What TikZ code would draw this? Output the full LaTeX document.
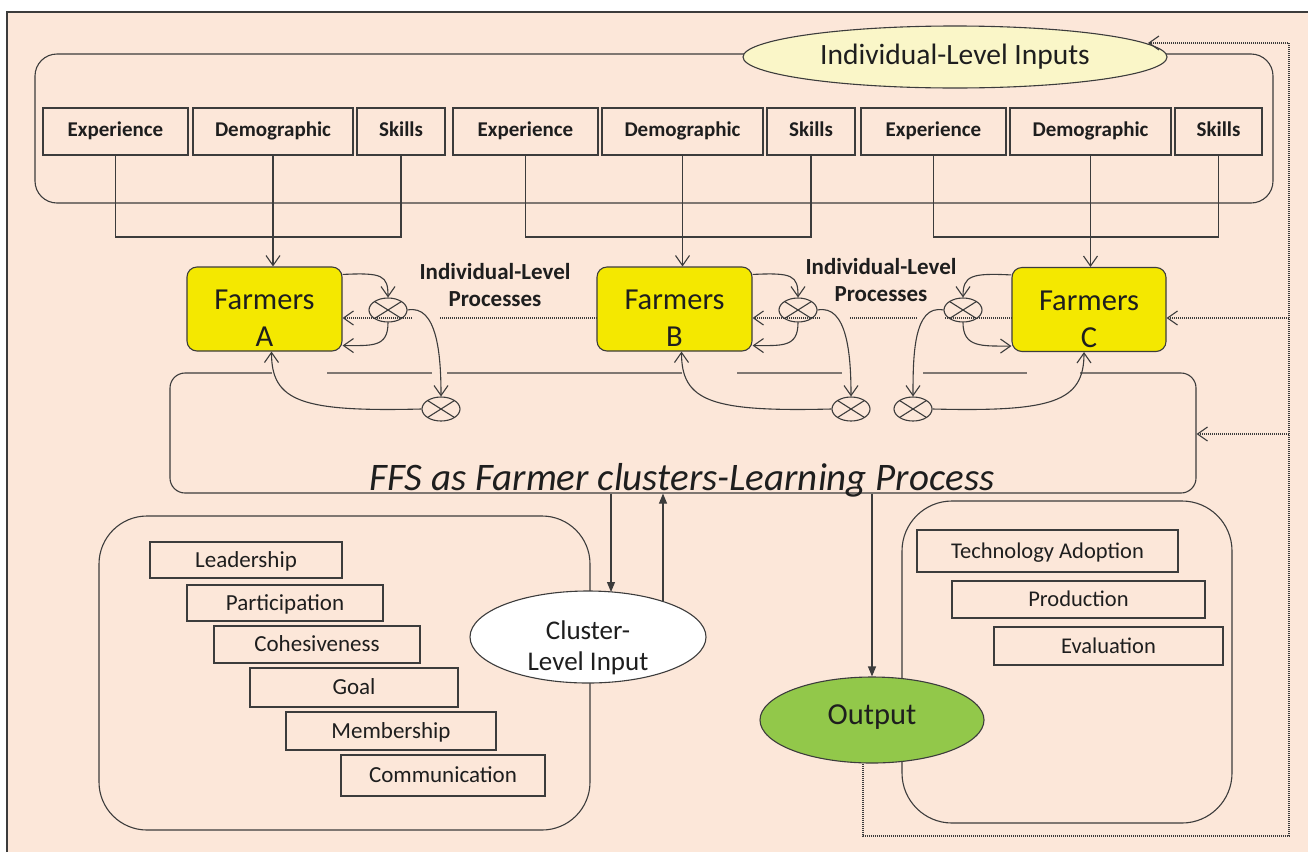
\documentclass[tikz,border=0pt]{standalone}
\usepackage{fontspec}
\setmainfont{Carlito}
\usetikzlibrary{arrows.meta,shapes.geometric}
\definecolor{bgc}{HTML}{FCE7D9}
\definecolor{lnc}{HTML}{3C3C3C}
\definecolor{txtc}{HTML}{1E1E1E}
\definecolor{farmy}{HTML}{F4E800}
\definecolor{pale}{HTML}{FAF6C8}
\definecolor{outg}{HTML}{92C84A}
\tikzset{
  solidline/.style={draw=lnc, line width=1.1pt},
  barb/.style={solidline, -{Straight Barb[length=10pt,width=14pt]}},
  farr/.style={solidline, -{Triangle[length=10pt,width=8pt]}},
  dotl/.style={draw=lnc, line width=1.2pt, dash pattern=on 1pt off 1pt},
  dotarr/.style={dotl, -{Straight Barb[length=10pt,width=14pt,line width=1.1pt]}},
  topbox/.style={solidline, rectangle, inner sep=0pt, minimum height=47pt, text=txtc, font=\fontsize{21}{25}\selectfont\bfseries, text height=1.02em, text depth=0.02em},
  lbox/.style={solidline, rectangle, inner sep=0pt, text=txtc, font=\fontsize{23}{27}\selectfont, text height=1.43em, text depth=-0.3em},
  farm/.style={solidline, rectangle, rounded corners=10pt, fill=farmy, inner sep=0pt, minimum width=155pt, minimum height=84pt},
  farmlab/.style={align=center, text=txtc, font=\fontsize{30.5}{37}\selectfont, inner sep=0pt},
  mix/.style={solidline, ellipse, inner sep=0pt, minimum width=38pt, minimum height=24pt,
    path picture={\draw[lnc, line width=1.1pt] (path picture bounding box.north west) -- (path picture bounding box.south east) (path picture bounding box.north east) -- (path picture bounding box.south west);}},
  proclab/.style={align=center, text=txtc, font=\fontsize{23}{27}\selectfont\bfseries, inner sep=0pt},
  eraser/.style={draw=bgc, line width=3pt},
}
\begin{document}
\begin{tikzpicture}[x=1pt,y=-1pt]
\useasboundingbox (0,0) rectangle (1308,852);
\fill[white] (0,0) rectangle (1308,852);
\fill[bgc] (7,12) rectangle (1308,852);
\draw[draw=lnc, line width=1.2pt] (7,852) -- (7,12) -- (1308,12);

% containers
\draw[solidline, rounded corners=22pt] (35,54) rectangle (1273,203);
\draw[solidline, rounded corners=48pt] (99,516) rectangle (590,830);
\draw[solidline, rounded corners=50pt] (902,501) rectangle (1232,823);

% top ellipse
\node[solidline, ellipse, fill=pale, minimum width=424pt, minimum height=62pt, inner sep=0pt, text=txtc, font=\fontsize{29.5}{35}\selectfont] (inputs) at (955,57) {Individual-Level Inputs};

% individual inputs
\node[topbox, minimum width=145pt] (e1) at (115.5,131.5) {Experience};
\node[topbox, minimum width=160pt] (d1) at (273,131.5) {Demographic};
\node[topbox, minimum width=88pt] (s1) at (401,131.5) {Skills};
\node[topbox, minimum width=145pt] (e2) at (525.5,131.5) {Experience};
\node[topbox, minimum width=161pt] (d2) at (682.5,131.5) {Demographic};
\node[topbox, minimum width=88pt] (s2) at (811,131.5) {Skills};
\node[topbox, minimum width=145pt] (e3) at (933.5,131.5) {Experience};
\node[topbox, minimum width=161pt] (d3) at (1090.5,131.5) {Demographic};
\node[topbox, minimum width=87pt] (s3) at (1218.5,131.5) {Skills};

% farmers
\node[farm] (A) at (264.5,309) {};
\node[farm] (B) at (674.5,309) {};
\node[farm, minimum width=154pt] (C) at (1089,309.5) {};
\node[farmlab] (Alab) at ([yshift=-9.5pt]A.center) {Farmers\\A};
\node[farmlab] (Blab) at ([yshift=-9.5pt]B.center) {Farmers\\B};
\node[farmlab] (Clab) at ([yshift=-9.5pt]C.center) {Farmers\\C};

% mixing circles
\node[mix] (a1) at (388,310) {};
\node[mix] (a2) at (441,409) {};
\node[mix] (b1) at (798,310) {};
\node[mix] (b2) at (851,409) {};
\node[mix] (c1) at (963,310) {};
\node[mix] (c2) at (913,409) {};

\node[proclab] (p1) at (495,285) {Individual-Level\\Processes};
\node[proclab] (p2) at (881,280) {Individual-Level\\Processes};

% FFS
\node[solidline, rectangle, rounded corners=15pt, minimum width=1026pt, minimum height=120pt, inner sep=0pt] (F) at (683,433) {};
\node[font=\fontsize{39}{45}\selectfont\itshape, text=txtc, inner sep=0pt, anchor=base] (Flab) at (682,490) {FFS as Farmer clusters-Learning Process};
\draw[eraser] (272,373) -- (327,373);
\draw[eraser] (432,373) -- (447,373);
\draw[eraser] (682,373) -- (737,373);
\draw[eraser] (842,373) -- (923,373);
\draw[eraser] (1027,373) -- (1080,373);

% cluster-level
\node[lbox, minimum width=192pt, minimum height=36pt] (lead) at (246,560) {Leadership};
\node[lbox, minimum width=196pt, minimum height=36pt] (part) at (285,603) {Participation};
\node[lbox, minimum width=206pt, minimum height=37pt] (cohe) at (317,644.5) {Cohesiveness};
\node[lbox, minimum width=208pt, minimum height=39pt] (goal) at (354,687.5) {Goal};
\node[lbox, minimum width=210pt, minimum height=38pt] (memb) at (391,731) {Membership};
\node[lbox, minimum width=204pt, minimum height=41pt] (comm) at (443,775.5) {Communication};
\node[solidline, ellipse, fill=white, minimum width=236pt, minimum height=92pt, inner sep=0pt] (cl) at (588,637) {};
\node[align=center, text=txtc, font=\fontsize{27}{31}\selectfont, inner sep=0pt] (cllab) at ([yshift=-10.5pt]cl.center) {Cluster-\\Level Input};

% outputs
\node[lbox, minimum width=261pt, minimum height=42pt, font=\fontsize{22.5}{27}\selectfont] (tech) at (1047.5,551) {Technology Adoption};
\node[lbox, minimum width=253pt, minimum height=37pt, font=\fontsize{22.5}{27}\selectfont] (prod) at (1078.5,599.5) {Production};
\node[lbox, minimum width=229pt, minimum height=38pt, font=\fontsize{22.5}{27}\selectfont] (eval) at (1108.5,646) {Evaluation};
\node[solidline, ellipse, fill=outg, minimum width=224pt, minimum height=86pt, inner sep=0pt, text=txtc, font=\fontsize{30.5}{36}\selectfont, text height=0.84em, text depth=-0.2em] (Out) at (872,720) {Output};

% input connectors
\coordinate (jy) at (0,237);
\draw[solidline] (e1.south) -- (e1.south |- jy) -| (s1.south);
\draw[solidline] (e2.south) -- (e2.south |- jy) -| (s2.south);
\draw[solidline] (e3.south) -- (e3.south |- jy) -| (s3.south);
\draw[barb] (d1.south) -- (d1.south |- A.north);
\draw[barb] (d2.south) -- (d2.south |- B.north);
\draw[barb] (d3.south) -- (d3.south |- C.north);

% farmer A loops
\draw[barb] ([yshift=-8pt]A.north east) .. controls +(40,-2) and +(0,-22) .. (a1.north);
\draw[barb] (a1.south) .. controls +(0,25) and +(30,0) .. ([yshift=6pt]A.south east);
\draw[barb] (a1.east) .. controls +(30,-6) and +(0,-40) .. (a2.north);
\draw[barb] (a2.west) .. controls +(-120,3) and +(0,50) .. ([xshift=7pt]A.south);
% farmer B loops
\draw[barb] ([yshift=-8pt]B.north east) .. controls +(40,-2) and +(0,-22) .. (b1.north);
\draw[barb] (b1.south) .. controls +(0,25) and +(30,0) .. ([yshift=6pt]B.south east);
\draw[barb] (b1.east) .. controls +(30,-6) and +(0,-40) .. (b2.north);
\draw[barb] (b2.west) .. controls +(-120,3) and +(0,50) .. ([xshift=7pt]B.south);
% farmer C loops
\draw[barb] ([yshift=-8pt]C.north west) .. controls +(-40,-2) and +(0,-22) .. (c1.north);
\draw[barb] (c1.south) .. controls +(0,25) and +(-30,0) .. ([yshift=6pt]C.south west);
\draw[barb] (c1.west) .. controls +(-30,-6) and +(0,-40) .. (c2.north);
\draw[barb] (c2.east) .. controls +(120,3) and +(0,50) .. ([xshift=-5pt]C.south);

% dotted processes
\coordinate (gA1) at (412,318);
\coordinate (gA2) at (440,318);
\coordinate (gB1) at (820,318);
\coordinate (gB2) at (850,318);
\coordinate (gC1) at (917,318);
\coordinate (gC2) at (945,318);
\draw[dotarr] (gA1) -- (gA1 -| A.east);
\draw[dotl] (gA2) -- (gA2 -| B.west);
\draw[dotarr] (gB1) -- (gB1 -| B.east);
\draw[dotl] (gB2) -- (gC1);
\draw[dotl] (gC2) -- (gC2 -| C.west);

% feedback
\coordinate (fbS) at (863,836);
\coordinate (fbE) at (1289,836);
\coordinate (fbN) at (1289,43);
\coordinate (inTip) at (1148,43);
\coordinate (fbC) at (1289,318);
\coordinate (fbF) at (1289,434);
\draw[dotarr] (Out.south -| fbS) -- (fbS) -- (fbE) -- (fbN) -- (inTip);
\draw[dotarr] (fbC) -- (fbC -| C.east);
\draw[dotarr] (fbF) -- (fbF -| F.east);

% cluster / output arrows
\coordinate (cdn) at (611,592);
\coordinate (cup) at (663,601);
\draw[farr] (F.south -| cdn) -- (cdn);
\draw[farr] (cup) -- (cup |- F.south);
\draw[farr] (F.south -| Out.north) -- (Out.north);
\end{tikzpicture}
\end{document}
